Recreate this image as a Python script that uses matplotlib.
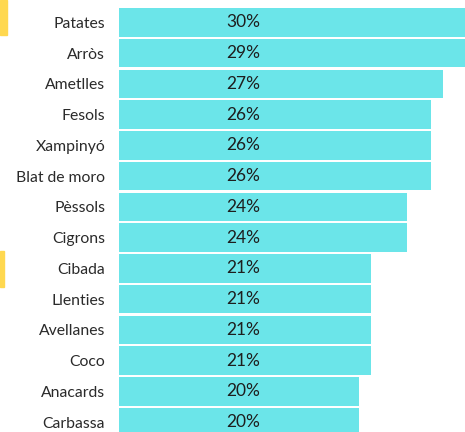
import matplotlib
matplotlib.use("Agg")
import matplotlib.pyplot as plt
from matplotlib.patches import Rectangle

categories = ["Patates", "Arròs", "Ametlles", "Fesols", "Xampinyó", "Blat de moro",
              "Pèssols", "Cigrons", "Cibada", "Llenties", "Avellanes", "Coco",
              "Anacards", "Carbassa"]
values = [30, 29, 27, 26, 26, 26, 24, 24, 21, 21, 21, 21, 20, 20]
labels = [f"{v}%" for v in values]

W, H = 465, 432
fig = plt.figure(figsize=(W / 100, H / 100), dpi=100)
plt.rcParams['font.family'] = ['Lato', 'DejaVu Sans']

left_px = 119
px_per_unit = 12.0
ax = fig.add_axes([left_px / W, 0, 30 * px_per_unit / W, 1])
pitch = 30.75
first_center = 22.4
ax.set_xlim(0, 30)
ax.set_ylim((H - first_center) / pitch, -first_center / pitch)

ypos = list(range(len(categories)))
ax.barh(ypos, values, height=28.6 / pitch, color="#6be5e9", edgecolor="none")
for y, lab in zip(ypos, labels):
    ax.text(10.35, y, lab, ha="center", va="center", fontsize=12.5, color="#1e1e1e")

ax.set_yticks(ypos)
ax.set_yticklabels(categories, fontsize=11.3, color="#2a2a2a")
ax.tick_params(axis="y", length=0, pad=10)
ax.set_xticks([])
for s in ax.spines.values():
    s.set_visible(False)

fig.patches.append(Rectangle((0, 1 - 35 / H), 7 / W, 35 / H, transform=fig.transFigure,
                             color="#ffd84f", zorder=5))
fig.patches.append(Rectangle((0, 1 - 287 / H), 4 / W, 36 / H, transform=fig.transFigure,
                             color="#ffd84f", zorder=5))

fig.savefig("out.png", dpi=100)
